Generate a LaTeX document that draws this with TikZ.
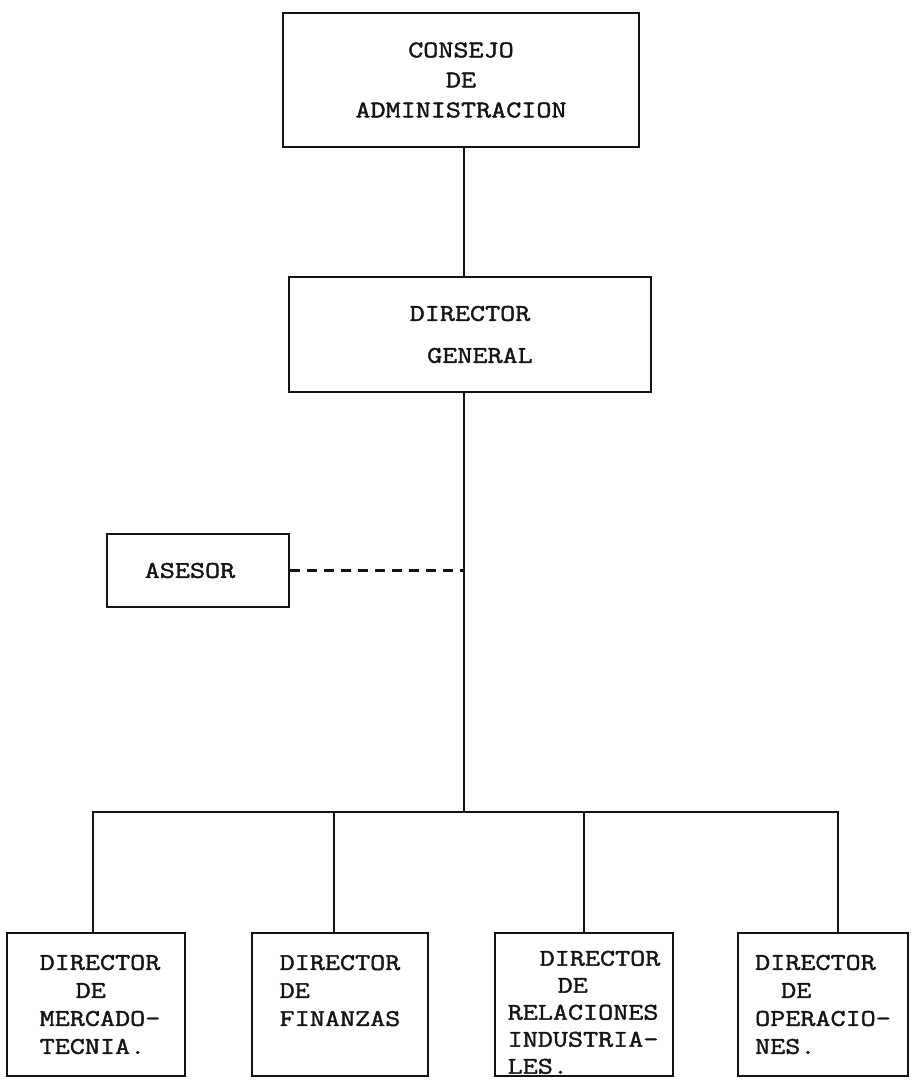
\documentclass[tikz,border=0pt]{standalone}
\usepackage{fontspec}
\setmonofont{Latin Modern Mono}[FakeStretch=1.22,FakeBold=1.6]
\usetikzlibrary{positioning}
\definecolor{inkColor}{HTML}{141414}
\definecolor{paperColor}{HTML}{FFFFFF}

\begin{document}
\begin{tikzpicture}[
  x=0.5pt, y=-0.5pt,
  unit/.style={
    draw=inkColor,
    text=inkColor,
    line width=1.4pt,
    inner sep=2pt,
    font=\ttfamily\fontsize{12}{15}\selectfont
  },
  board/.style={unit, minimum width=178pt, minimum height=67pt, align=center},
  chief/.style={unit, minimum width=181pt, minimum height=57.5pt, align=center},
  advisor/.style={unit, minimum width=91pt, minimum height=36.5pt},
  dept/.style={unit, minimum height=71.5pt, align=left,
    font=\ttfamily\fontsize{12}{14}\selectfont},
  link/.style={draw=inkColor, line width=1.4pt},
  staff/.style={link, dash pattern=on 5pt off 3.5pt}
]
\useasboundingbox[fill=paperColor] (0,0) rectangle (920,1082);

\node[board] (consejo) at (461,80) {CONSEJO\\DE\\ADMINISTRACION};
\node[chief] (dirgen) at (470,334.5) {DIRECTOR\\[6pt]\hspace*{10pt}GENERAL};
\node[advisor] (asesor) at (198,570.5) {ASESOR\hspace*{8pt}};

\node[dept, minimum width=89pt] (mercado) at (96,1004.5)
  {\hspace*{4pt}DIRECTOR\\\hspace*{22pt}DE\\\hspace*{4pt}MERCADO-\\\hspace*{4pt}TECNIA.};
\node[dept, minimum width=88pt] (finanzas) at (340,1004.5)
  {DIRECTOR\\DE\\FINANZAS\\\mbox{}};
\node[dept, minimum width=89pt, inner sep=0pt,
  font=\ttfamily\fontsize{12}{13.5}\selectfont] (relaciones) at (584,1004.5)
  {\mbox{}\\[1.8pt]\hspace*{16pt}DIRECTOR\\\hspace*{25pt}DE\\RELACIONES\hspace*{9pt}\\INDUSTRIA-\\LES.};
\node[dept, minimum width=85pt] (operaciones) at (823,1004.5)
  {DIRECTOR\\\hspace*{13pt}DE\\OPERACIO-\\NES.};

\coordinate (bus) at (464,812);

\draw[link] (consejo.south -| bus) -- (dirgen.north -| bus);
\draw[link] (dirgen.south -| bus) -- (bus);
\draw[staff] (asesor.east) -- (asesor.east -| bus);

\draw[link] ([xshift=-1.5pt]mercado.north) |- (bus) -| ([xshift=7.5pt]operaciones.north);
\draw[link] ([xshift=-3pt]finanzas.north) -- ([xshift=-3pt]finanzas.north |- bus);
\draw[link] (relaciones.north |- bus) -- (relaciones.north);

\end{tikzpicture}
\end{document}
